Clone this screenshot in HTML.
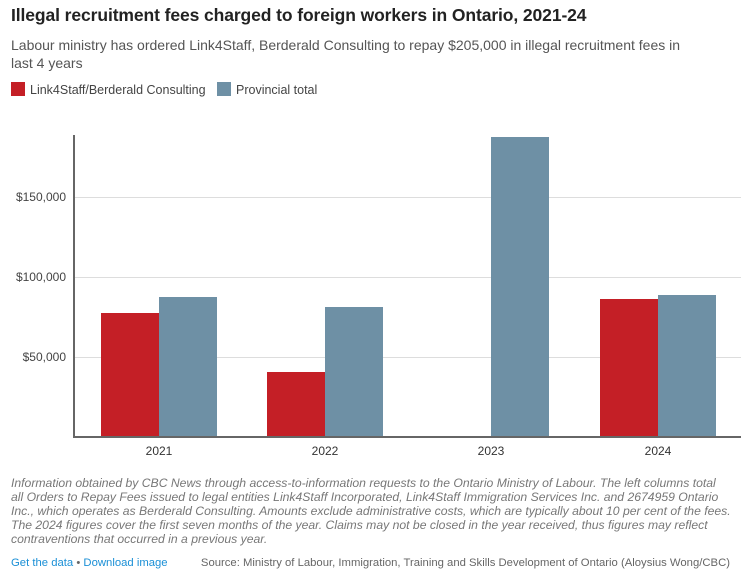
<!DOCTYPE html>
<html><head><meta charset="utf-8"><style>
body{margin:0;width:741px;height:572px;background:#fff;font-family:"Liberation Sans",sans-serif;position:relative;overflow:hidden}
.t{position:absolute;left:11px;top:5px;font-size:17.5px;font-weight:bold;color:#222;letter-spacing:-0.1px}
.s{position:absolute;left:11px;top:36px;width:690px;font-size:14px;line-height:18px;color:#555}
.lg{position:absolute;top:82px;font-size:12.5px;color:#444}
.sw{display:inline-block;width:14px;height:14px;vertical-align:-2px;margin-right:5px}
.n{position:absolute;left:11px;top:476px;white-space:nowrap;font-size:12.2px;line-height:14px;font-style:italic;color:#777}
.f{position:absolute;top:557px;font-size:11.3px}
</style></head><body>
<div class="t">Illegal recruitment fees charged to foreign workers in Ontario, 2021-24</div>
<div class="s">Labour ministry has ordered Link4Staff, Berderald Consulting to repay $205,000 in illegal recruitment fees in last 4 years</div>
<div class="lg" style="left:11px"><span class="sw" style="background:#c41f26"></span>Link4Staff/Berderald Consulting</div>
<div class="lg" style="left:217px"><span class="sw" style="background:#6e90a5"></span>Provincial total</div>
<svg width="741" height="572" style="position:absolute;left:0;top:0" font-family="Liberation Sans, sans-serif" font-size="12" fill="#444">
<g stroke="#ddd" stroke-width="1">
<line x1="73" x2="741" y1="197.5" y2="197.5"/><line x1="73" x2="741" y1="277.5" y2="277.5"/><line x1="73" x2="741" y1="357.5" y2="357.5"/>
</g>
<g text-anchor="end"><text x="66" y="201">$150,000</text><text x="66" y="281">$100,000</text><text x="66" y="361">$50,000</text></g>
<g fill="#c41f26"><rect x="101" y="313" width="58" height="124"/><rect x="267" y="372" width="58" height="65"/><rect x="600" y="299" width="58" height="138"/></g>
<g fill="#6e90a5"><rect x="159" y="297" width="58" height="140"/><rect x="325" y="307" width="58" height="130"/><rect x="491" y="137" width="58" height="300"/><rect x="658" y="295" width="58" height="142"/></g>
<line x1="74" x2="74" y1="135" y2="438" stroke="#666" stroke-width="2"/>
<line x1="73" x2="741" y1="437" y2="437" stroke="#666" stroke-width="2"/>
<g text-anchor="middle" fill="#333"><text x="159" y="455">2021</text><text x="325" y="455">2022</text><text x="491" y="455">2023</text><text x="658" y="455">2024</text></g>
</svg>
<div class="n">Information obtained by CBC News through access-to-information requests to the Ontario Ministry of Labour. The left columns total<br>all Orders to Repay Fees issued to legal entities Link4Staff Incorporated, Link4Staff Immigration Services Inc. and 2674959 Ontario<br>Inc., which operates as Berderald Consulting. Amounts exclude administrative costs, which are typically about 10 per cent of the fees.<br>The 2024 figures cover the first seven months of the year. Claims may not be closed in the year received, thus figures may reflect<br>contraventions that occurred in a previous year.</div>
<div class="f" style="left:11px;color:#1a8fd6">Get the data <span style="color:#666">•</span> Download image</div>
<div class="f" style="right:11px;color:#666">Source: Ministry of Labour, Immigration, Training and Skills Development of Ontario (Aloysius Wong/CBC)</div>
</body></html>
